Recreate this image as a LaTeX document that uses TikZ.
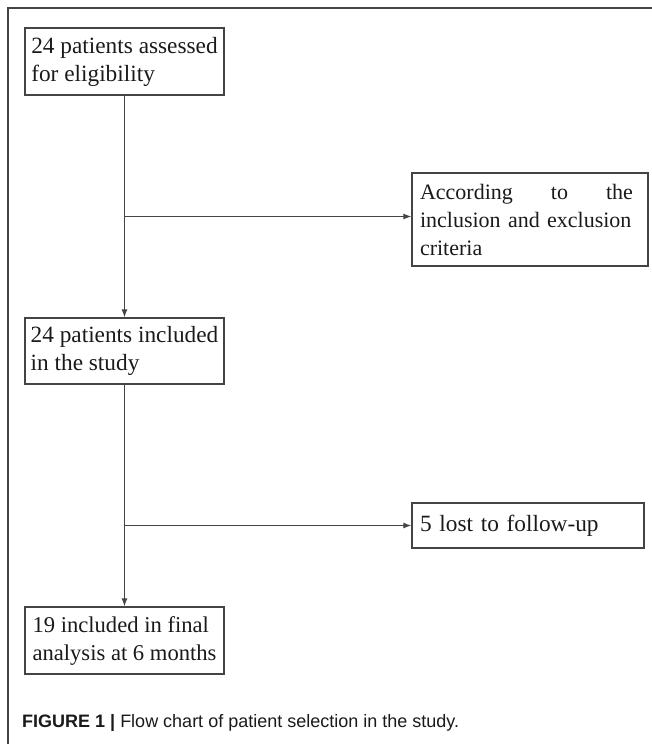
\documentclass[tikz,border=0pt]{standalone}
\usepackage{fontspec}
\setmainfont{Liberation Serif}
\newfontfamily\capfont{Liberation Sans}
\usetikzlibrary{arrows.meta}
\definecolor{lineclr}{HTML}{444444}
\definecolor{txtclr}{HTML}{1A1A1A}
\begin{document}
\begin{tikzpicture}[x=1pt,y=-1pt,
  boxstyle/.style={draw=lineclr, line width=1.3pt, rectangle, inner ysep=0pt,
    text=txtclr, font=\fontsize{23.3}{28}\selectfont, minimum height=#1},
  conn/.style={draw=lineclr, line width=1.2pt},
  arr/.style={conn, -{Latex[length=8pt,width=6pt]}}
]
\useasboundingbox (0,0) rectangle (652,744);
% frame
\draw[lineclr, line width=2pt] (652,8) -- (8,8) -- (8,744);

\node[boxstyle=67pt, minimum width=199pt, align=left] (b1) at (124.5,61.5)
  {24 patients assessed\\for eligibility};
\node[boxstyle=66pt, minimum width=199pt, align=left] (b2) at (124.5,351)
  {24 patients included\\in the study};
\node[boxstyle=67pt, minimum width=199pt, align=left,
  font=\fontsize{22.6}{28}\selectfont] (b4) at (124.5,640.5)
  {19 included in final\\analysis at 6 months};
\node[boxstyle=93pt, inner xsep=8pt, text width=220pt, align=left,
  font=\fontsize{22}{28}\selectfont] (b3) at (530,219.5)
  {\makebox[213pt][l]{According\hfill to\hfill the}\\inclusion and exclusion\\criteria};
\node[boxstyle=45pt, inner xsep=8pt, text width=216pt, align=left] (b5) at (528,525.5)
  {5 lost to follow-up};

\coordinate (j1) at (b1.south |- 0,216.5);
\coordinate (j2) at (b2.south |- b5.west);

\draw[arr] (b1.south) -- (b2.north);
\draw[arr] (j1) -- (j1 -| b3.west);
\draw[arr] (b2.south) -- (b4.north);
\draw[arr] (j2) -- (b5.west);

\node[anchor=base west, inner sep=0pt, text=txtclr, font=\capfont\fontsize{18}{22}\selectfont] (cap) at (22,727)
  {\textbf{FIGURE 1 |} Flow chart of patient selection in the study.};
\end{tikzpicture}
\end{document}
